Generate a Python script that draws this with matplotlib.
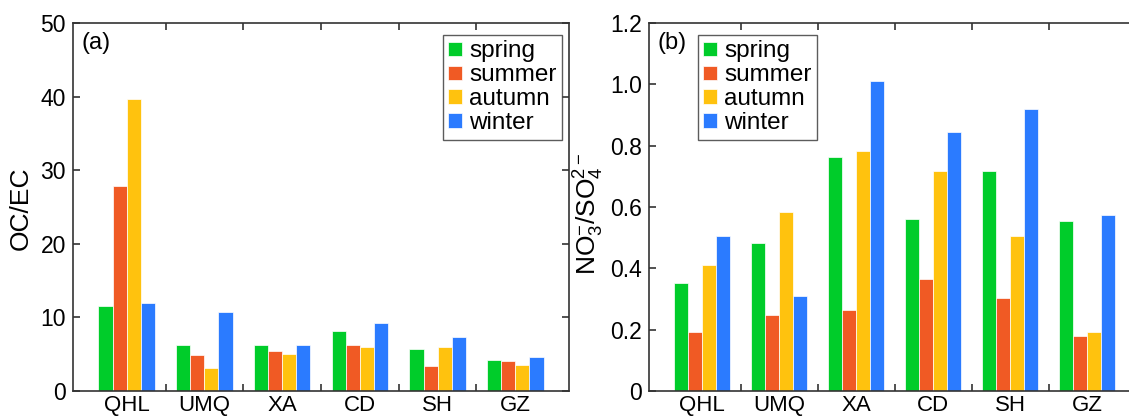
import numpy as np
import matplotlib
matplotlib.use('Agg')
import matplotlib.pyplot as plt

plt.rcParams['font.family'] = ['Liberation Sans', 'DejaVu Sans']
plt.rcParams['mathtext.fontset'] = 'custom'
plt.rcParams['mathtext.rm'] = 'Liberation Sans'
plt.rcParams['mathtext.it'] = 'Liberation Sans'

# DATA
sites = ['QHL', 'UMQ', 'XA', 'CD', 'SH', 'GZ']
seasons = ['spring', 'summer', 'autumn', 'winter']

oc_ec_spring = [11.6, 6.2, 6.2, 8.2, 5.66, 4.2]
oc_ec_summer = [27.8, 4.84, 5.5, 6.2, 3.4, 4.1]
oc_ec_autumn = [39.7, 3.17, 5.07, 5.97, 6.0, 3.53]
oc_ec_winter = [11.9, 10.7, 6.24, 9.28, 7.33, 4.66]

no3_so4_spring = [0.351, 0.482, 0.764, 0.562, 0.719, 0.555]
no3_so4_summer = [0.191, 0.249, 0.265, 0.365, 0.303, 0.180]
no3_so4_autumn = [0.412, 0.584, 0.783, 0.717, 0.505, 0.191]
no3_so4_winter = [0.506, 0.309, 1.010, 0.843, 0.920, 0.573]

# STYLE
colors = ['#00cc2a', '#f05a24', '#ffc20e', '#2b7bff']
bar_w = 0.181

fig = plt.figure(figsize=(11.29, 4.19), dpi=100)
ax_a = fig.add_axes([73 / 1129, 28 / 419, 496 / 1129, 368 / 419])
ax_b = fig.add_axes([649 / 1129, 28 / 419, 491.5 / 1129, 368 / 419])

x = np.arange(1, len(sites) + 1)


def draw_panel(ax, series, ylim, yticks, yticklabels, ylabel, tag, leg_x):
    for i, vals in enumerate(series):
        ax.bar(x + (i - 1.5) * bar_w, vals, width=bar_w, color=colors[i],
               edgecolor='white', linewidth=0.5, label=seasons[i])
    ax.set_xlim(0.31, 6.69)
    ax.set_ylim(*ylim)
    ax.set_yticks(yticks)
    ax.set_yticklabels(yticklabels)
    # ticks sit between the groups, labels under the groups
    ax.set_xticks(x[:-1] + 0.5)
    ax.set_xticklabels([])
    ax.set_xticks(x, minor=True)
    ax.set_xticklabels(sites, minor=True)
    ax.tick_params(axis='x', which='minor', length=0, pad=3, labelsize=16)
    ax.tick_params(which='major', direction='in', length=5, width=1.1,
                   top=True, right=True, labelsize=16.5, pad=5, colors='#222222',
                   labelcolor='black')
    for s in ax.spines.values():
        s.set_linewidth(1.2)
        s.set_color('#333333')
    ax.set_ylabel(ylabel, fontsize=19)
    ax.text(0.018, 0.946, tag, transform=ax.transAxes, fontsize=17,
            va='center', ha='left')
    leg = ax.legend(loc='upper left', bbox_to_anchor=(leg_x, 0.967),
                    fontsize=17.5, frameon=True, fancybox=False,
                    handlelength=0.55, handleheight=0.55, handletextpad=0.3,
                    labelspacing=0.08, borderpad=0.22, borderaxespad=0)
    leg.get_frame().set_edgecolor('#333333')
    leg.get_frame().set_linewidth(1.0)


draw_panel(ax_a, [oc_ec_spring, oc_ec_summer, oc_ec_autumn, oc_ec_winter],
           (0, 50), [0, 10, 20, 30, 40, 50], ['0', '10', '20', '30', '40', '50'],
           'OC/EC', '(a)', 0.746)
ax_a.yaxis.set_label_coords(-0.082, 0.497)

draw_panel(ax_b, [no3_so4_spring, no3_so4_summer, no3_so4_autumn, no3_so4_winter],
           (0, 1.2), [0, 0.2, 0.4, 0.6, 0.8, 1.0, 1.2],
           ['0', '0.2', '0.4', '0.6', '0.8', '1.0', '1.2'],
           r'NO$_3^{-}$/SO$_4^{2-}$', '(b)', 0.0997)
ax_b.yaxis.set_label_coords(-0.088, 0.48)

fig.savefig('out.png', dpi=100)
